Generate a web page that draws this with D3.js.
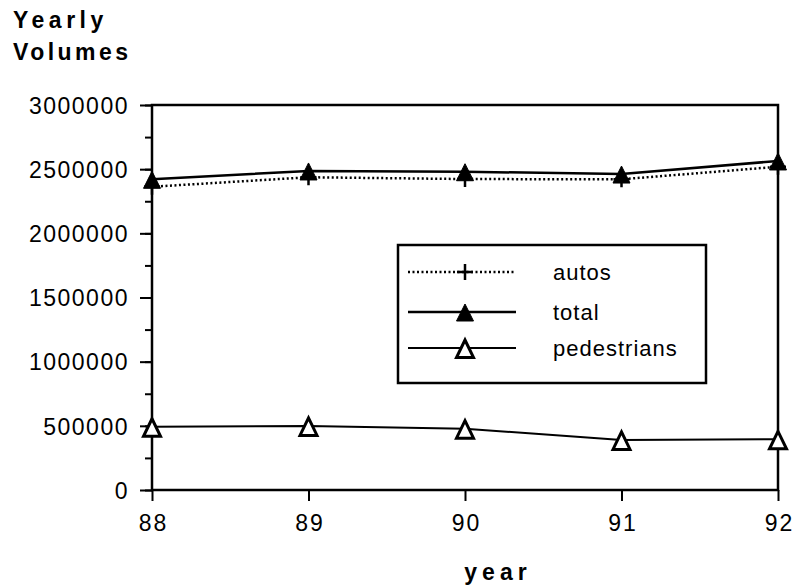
<!doctype html>
<html>
<head>
  <meta charset="utf8">
  <title>yearly volumes</title>
  <style>
    body { margin: 0; padding: 0; background: #fff; }
    svg { display: block; }
    text { font-family: "Liberation Sans", Arial, Helvetica, sans-serif; fill: #000; }
  </style>
</head>
<body>
  <svg></svg>

  <script src="https://d3js.org/d3.v7.min.js"></script>
  <script>
    // values
    const years = [88, 89, 90, 91, 92]
    const autos = [2363000, 2437000, 2423000, 2421000, 2519000]
    const total = [2421000, 2486000, 2480000, 2462000, 2564000]
    const pedestrians = [493000, 499000, 478000, 390000, 395000]
    const yTicks = [0, 500000, 1000000, 1500000, 2000000, 2500000, 3000000]
    const seriesNames = ['autos', 'total', 'pedestrians']

    const width = 793
    const height = 586
    const plotLeft = 152, plotRight = 778, plotTop = 105, plotBottom = 490

    const svg = d3.select('svg')
      .attr('width', width)
      .attr('height', height)

    const x = d3.scaleLinear().domain([88, 92]).range([plotLeft, plotRight])
    const y = d3.scaleLinear().domain([0, 3000000]).range([plotBottom, plotTop])

    // frame
    svg.append('rect')
      .attr('x', plotLeft)
      .attr('y', plotTop)
      .attr('width', plotRight - plotLeft)
      .attr('height', plotBottom - plotTop)
      .style('fill', 'none')
      .style('stroke', '#000')
      .style('stroke-width', 2.5)

    // minor y ticks every 250000
    const minor = d3.range(0, 3000001, 250000)
    svg.append('g')
      .attr('transform', `translate(${plotLeft},0)`)
      .call(d3.axisLeft(y).tickValues(minor).tickSize(7).tickFormat(''))
      .call(g => g.select('.domain').remove())
      .call(g => g.selectAll('line').style('stroke-width', 2))

    const yAxis = svg.append('g')
      .attr('transform', `translate(${plotLeft},0)`)
      .call(d3.axisLeft(y).tickValues(yTicks).tickSize(12).tickPadding(11).tickFormat(d3.format('d')))
    yAxis.select('.domain').remove()
    yAxis.selectAll('line').style('stroke-width', 2)
    yAxis.selectAll('text')
      .style('font-size', '23px')
      .style('letter-spacing', '1.5px')
      .attr('dy', '0.36em')

    const xAxis = svg.append('g')
      .attr('transform', `translate(0,${plotBottom})`)
      .call(d3.axisBottom(x).tickValues(years).tickSize(11).tickPadding(14).tickFormat(d3.format('d')))
    xAxis.select('.domain').remove()
    xAxis.selectAll('line').style('stroke-width', 2)
    xAxis.selectAll('text')
      .style('font-size', '23px')
      .style('letter-spacing', '2px')
      .attr('dx', '1px')

    // titles
    svg.append('text').attr('x', 13).attr('y', 28).text('Yearly')
      .style('font-size', '23px').style('font-weight', 'bold').style('letter-spacing', '4.5px')
    svg.append('text').attr('x', 13).attr('y', 60).text('Volumes')
      .style('font-size', '23px').style('font-weight', 'bold').style('letter-spacing', '3.5px')
    svg.append('text').attr('x', 498).attr('y', 580).text('year')
      .style('text-anchor', 'middle')
      .style('font-size', '23px').style('font-weight', 'bold').style('letter-spacing', '5px')

    // markers
    function plus (g, size) {
      g.append('path')
        .attr('d', `M${-size},0H${size}M0,${-size}V${size}`)
        .style('stroke', '#000').style('stroke-width', 2.5).style('fill', 'none')
    }
    function solidTri (g) {
      g.append('path')
        .attr('d', 'M0,-8L8.5,9L-8.5,9Z')
        .style('fill', '#000').style('stroke', '#000').style('stroke-width', 1)
    }
    function openTri (g) {
      g.append('path')
        .attr('d', 'M0,-8L8.5,9.5L-8.5,9.5Z')
        .style('fill', '#fff').style('stroke', '#000').style('stroke-width', 3)
        .style('stroke-linejoin', 'miter')
    }

    const line = d3.line().x((d, i) => x(years[i])).y(d => y(d))

    const series = [
      { values: autos, dash: '2,2.5', width: 2.5, marker: g => plus(g, 8) },
      { values: total, dash: null, width: 2.5, marker: solidTri },
      { values: pedestrians, dash: null, width: 2, marker: openTri }
    ]

    series.forEach(s => {
      svg.append('path')
        .datum(s.values)
        .attr('d', line)
        .style('fill', 'none')
        .style('stroke', '#000')
        .style('stroke-width', s.width)
        .style('stroke-dasharray', s.dash)
      s.values.forEach((v, i) => {
        const g = svg.append('g').attr('transform', `translate(${x(years[i])},${y(v)})`)
        s.marker(g)
      })
    })

    // legend
    const legend = svg.append('g')
    legend.append('rect')
      .attr('x', 398).attr('y', 245).attr('width', 308).attr('height', 138)
      .style('fill', '#fff').style('stroke', '#000').style('stroke-width', 2.5)

    const rowY = [272, 312, 348]
    series.forEach((s, i) => {
      legend.append('path')
        .attr('d', `M408,${rowY[i]}H516`)
        .style('stroke', '#000')
        .style('stroke-width', s.width)
        .style('stroke-dasharray', s.dash)
      const g = legend.append('g').attr('transform', `translate(465,${rowY[i]})`)
      s.marker(g)
      legend.append('text')
        .attr('x', 553)
        .attr('y', rowY[i] + 8)
        .text(seriesNames[i])
        .style('font-size', '22px')
        .style('letter-spacing', '1px')
    })
  </script>
</body>
</html>
